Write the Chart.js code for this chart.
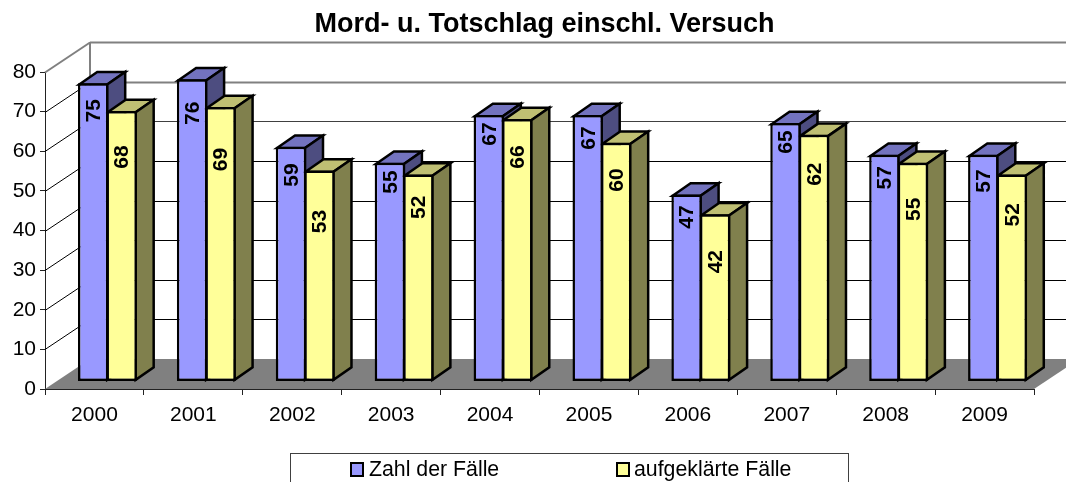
<!DOCTYPE html>
<html><head><meta charset="utf-8">
<style>html,body{margin:0;padding:0;background:#fff;overflow:hidden}canvas{display:block}</style>
<script src="https://cdn.jsdelivr.net/npm/chart.js@4"></script>
</head><body><canvas id="c" width="1066" height="482"></canvas>
<script>
const titleText = 'Mord- u. Totschlag einschl. Versuch';
const years = ['2000','2001','2002','2003','2004','2005','2006','2007','2008','2009'];
const faelle = [75,76,59,55,67,67,47,65,57,57];
const aufgeklaert = [68,69,53,52,66,60,42,62,55,52];
const yTicks = [0,10,20,30,40,50,60,70,80];
const FONT = '"Liberation Sans", Arial, sans-serif';
const BAR = {dx:13, dy:-8, depthX:18, depthY:-12.5};
const WALL = {dx:45, dy:-30};
const FACES = [{top:'#7373BF', side:'#4D4D80'},{top:'#BFBF73', side:'#80804D'}];
const LABEL_GAP = [[27.5,34,28.3,19.3,19,23,22.7,19,23,26.4],[46,52.4,51,32.7,38,37.3,47.4,39.3,46.7,40.3]];
const EDGE = 2.5;

const threeD = {
  id:'threeD',
  beforeDatasetsDraw(chart){
    const {ctx, scales:{x,y}} = chart;
    const L = x.left, R = x.right, W = chart.width;
    const y0 = y.getPixelForValue(0);
    ctx.save();
    // floor
    ctx.fillStyle = '#808080';
    ctx.beginPath();
    ctx.moveTo(L, y0);
    ctx.lineTo(L+WALL.dx, y0+WALL.dy);
    ctx.lineTo(R+WALL.dx, y0+WALL.dy);
    ctx.lineTo(R, y0);
    ctx.closePath();
    ctx.fill();
    // walls
    yTicks.forEach(v=>{
      if(v===0) return;
      const py = Math.round(y.getPixelForValue(v))+0.5;
      const by = py+WALL.dy;
      const strong = v>=70, mid = v===60;
      ctx.strokeStyle = strong ? '#808080' : (mid ? '#404040' : '#000');
      ctx.lineWidth = strong ? 2 : 1;
      ctx.beginPath();
      ctx.moveTo(L+WALL.dx, by);
      ctx.lineTo(W, by);
      ctx.stroke();
      ctx.strokeStyle = v===80 ? '#808080' : '#000';
      ctx.lineWidth = v===80 ? 2 : 1;
      ctx.beginPath();
      ctx.moveTo(L, py);
      ctx.lineTo(L+WALL.dx, by);
      ctx.stroke();
    });
    ctx.strokeStyle = '#808080';
    ctx.lineWidth = 2;
    ctx.beginPath();
    ctx.moveTo(L+WALL.dx, y.getPixelForValue(80)+WALL.dy);
    ctx.lineTo(L+WALL.dx, y0+WALL.dy);
    ctx.stroke();
    ctx.restore();
    // shifted bars
    ctx.save();
    ctx.translate(BAR.dx, BAR.dy);
    ctx.lineWidth = EDGE;
    ctx.strokeStyle = '#000';
    ctx.lineJoin = 'miter';
    chart.data.datasets.forEach((ds,di)=>{
      chart.getDatasetMeta(di).data.forEach(el=>{
        const i = EDGE/2;
        const l = el.x-el.width/2+i, r = el.x+el.width/2-i, t = el.y+i, b = el.base-i;
        const ax = BAR.depthX, ay = BAR.depthY;
        ctx.fillStyle = FACES[di].top;
        ctx.beginPath();
        ctx.moveTo(l,t); ctx.lineTo(l+ax,t+ay); ctx.lineTo(r+ax,t+ay); ctx.lineTo(r,t); ctx.closePath();
        ctx.fill(); ctx.stroke();
        ctx.fillStyle = FACES[di].side;
        ctx.beginPath();
        ctx.moveTo(r,t); ctx.lineTo(r+ax,t+ay); ctx.lineTo(r+ax,b+ay); ctx.lineTo(r,b); ctx.closePath();
        ctx.fill(); ctx.stroke();
      });
    });
  },
  afterDatasetsDraw(chart){
    const {ctx} = chart;
    ctx.fillStyle = '#000';
    ctx.font = 'bold 21px '+FONT;
    ctx.textAlign = 'center';
    ctx.textBaseline = 'middle';
    chart.data.datasets.forEach((ds,di)=>{
      chart.getDatasetMeta(di).data.forEach((el,i)=>{
        ctx.save();
        ctx.translate(el.x, el.y+LABEL_GAP[di][i]);
        ctx.rotate(-Math.PI/2);
        ctx.fillText(String(ds.data[i]),0,1);
        ctx.restore();
      });
    });
    ctx.restore();
  },
  afterDraw(chart){
    const {ctx} = chart;
    ctx.save();
    ctx.fillStyle = '#000';
    ctx.font = 'bold 27px '+FONT;
    ctx.textAlign = 'center';
    ctx.textBaseline = 'middle';
    ctx.fillText(titleText, 544.5, 25);
    // legend
    ctx.strokeStyle = '#404040';
    ctx.lineWidth = 1;
    ctx.strokeRect(290.5,453.5,558,40);
    const items = [[351,369],[617,634]];
    chart.data.datasets.forEach((ds,i)=>{
      const [sx,tx] = items[i];
      ctx.fillStyle = ds.backgroundColor;
      ctx.strokeStyle = '#000';
      ctx.lineWidth = 2;
      ctx.fillRect(sx,463,12,13);
      ctx.strokeRect(sx,463,12,13);
      ctx.fillStyle = '#000';
      ctx.font = '21.3px '+FONT;
      ctx.textAlign = 'left';
      ctx.fillText(ds.label,tx,470);
    });
    ctx.restore();
  }
};

new Chart(document.getElementById('c'),{
  type:'bar',
  data:{labels:years,datasets:[
    {label:'Zahl der Fälle',data:faelle,yAxisID:'yBars',backgroundColor:'#9999FF',borderColor:'#000',borderWidth:EDGE,borderSkipped:false,clip:false},
    {label:'aufgeklärte Fälle',data:aufgeklaert,yAxisID:'yBars',backgroundColor:'#FFFF99',borderColor:'#000',borderWidth:EDGE,borderSkipped:false,clip:false}
  ]},
  options:{
    responsive:false,animation:false,
    categoryPercentage:0.576,barPercentage:1.07,
    layout:{padding:{left:0,right:32,top:72,bottom:0}},
    plugins:{legend:{display:false},title:{display:false},tooltip:{enabled:false}},
    scales:{
      x:{
        afterFit(s){s.height=93;},
        grid:{drawOnChartArea:false,tickLength:6,color:'#222',offset:true},
        border:{color:'#222',width:1},
        ticks:{color:'#000',font:{family:FONT,size:21},padding:8,maxRotation:0}
      },
      y:{
        min:0,max:80,
        afterFit(s){s.width=45;},
        grid:{drawOnChartArea:false,tickLength:5,color:'#222'},
        border:{color:'#222',width:1},
        ticks:{color:'#000',font:{family:FONT,size:21},padding:4,stepSize:10}
      },
      yBars:{display:false,min:0,max:79.85}
    }
  },
  plugins:[threeD]
});
</script></body></html>
